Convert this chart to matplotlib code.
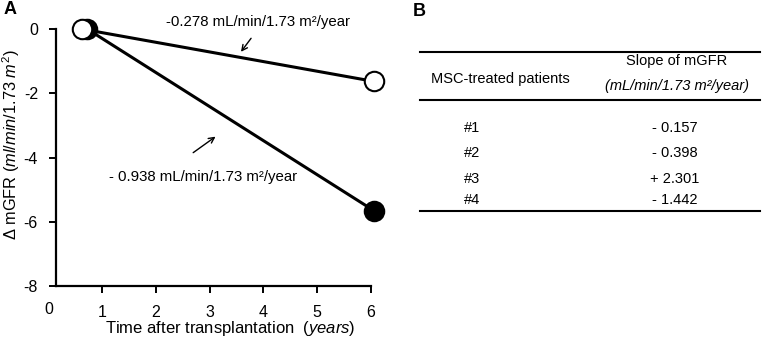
import matplotlib
matplotlib.use("Agg")
import matplotlib.pyplot as plt

plt.rcParams['font.family'] = ['Liberation Sans', 'DejaVu Sans']
plt.rcParams['mathtext.fontset'] = 'custom'
plt.rcParams['mathtext.rm'] = 'Liberation Sans'
plt.rcParams['mathtext.it'] = 'Liberation Sans:italic'
plt.rcParams['mathtext.bf'] = 'Liberation Sans:bold'
plt.rcParams['axes.unicode_minus'] = False

# Data
years_open = [0.62, 6.05]
mgfr_open = [0.0, -1.63]
years_filled = [0.72, 6.05]
mgfr_filled = [0.0, -5.65]
xticks = [1, 2, 3, 4, 5, 6]
yticks = [0, -2, -4, -6, -8]
slope_open_label = "-0.278 mL/min/1.73 m\u00b2/year"
slope_filled_label = "- 0.938 mL/min/1.73 m\u00b2/year"
patients = ["#1", "#2", "#3", "#4"]
slopes = ["- 0.157", "- 0.398", "+ 2.301", "- 1.442"]

W, H = 762, 345
fig = plt.figure(figsize=(W / 100, H / 100), dpi=100)

def fx(px):
    return px / W

def fy(py):
    return 1 - py / H

FS = 10.8

ax = fig.add_axes([fx(56), fy(286), fx(371 - 56), (286 - 29) / H])
ax.set_xlim(0.14, 6.0)
ax.set_ylim(-8, 0)
ax.spines['top'].set_visible(False)
ax.spines['right'].set_visible(False)
ax.spines['left'].set_linewidth(1.6)
ax.spines['bottom'].set_linewidth(1.6)
ax.set_xticks(xticks)
ax.set_yticks(yticks)
ax.tick_params(axis='both', direction='out', length=5, width=1.4, labelsize=FS + 0.7)
ax.tick_params(axis='x', pad=9)
ax.tick_params(axis='y', pad=8)
ax.text(0, -8.5, "0", ha='center', va='top', fontsize=FS + 0.7, clip_on=False)

ax.plot(years_filled, mgfr_filled, color='black', lw=2.2, marker='o', ms=14,
        mfc='black', mec='black', mew=1.5, clip_on=False, zorder=3)
ax.plot(years_open, mgfr_open, color='black', lw=2.2, marker='o', ms=14,
        mfc='white', mec='black', mew=1.5, clip_on=False, zorder=4)

ax.annotate("", xy=(3.55, -0.78), xytext=(3.8, -0.22),
            arrowprops=dict(arrowstyle='->', lw=1.0, color='black'))
ax.text(3.9, 0.22, slope_open_label, ha='center', va='center', fontsize=FS)
ax.annotate("", xy=(3.15, -3.3), xytext=(2.65, -3.9),
            arrowprops=dict(arrowstyle='->', lw=1.0, color='black'))
ax.text(2.88, -4.6, slope_filled_label, ha='center', va='center', fontsize=FS)

fig.text(fx(230), fy(329), r"Time after transplantation  $\it{(years)}$", fontsize=12,
         ha='center', va='center')
fig.text(fx(11), fy(145), r"$\Delta$ mGFR $\it{(ml/min/1.73\ m^2)}$", fontsize=11.8,
         rotation=90, ha='center', va='center')

fig.text(fx(4), fy(9), "A", fontsize=13, fontweight='bold', ha='left', va='center')
fig.text(fx(413), fy(11), "B", fontsize=13, fontweight='bold', ha='left', va='center')

# Table
for ypx in [52, 100, 211]:
    fig.add_artist(plt.Line2D([fx(420), fx(760)], [fy(ypx), fy(ypx)], color='black', lw=1.5))
TFS = 10.5
fig.text(fx(500), fy(79), "MSC-treated patients", fontsize=TFS, ha='center', va='center')
fig.text(fx(677), fy(61), "Slope of mGFR", fontsize=TFS, ha='center', va='center')
fig.text(fx(677), fy(86), "(mL/min/1.73 m\u00b2/year)", fontsize=TFS, style='italic',
         ha='center', va='center')
row_y = [128, 153, 179, 200]
for p, s, ypx in zip(patients, slopes, row_y):
    fig.text(fx(472), fy(ypx), p, fontsize=TFS, ha='center', va='center')
    fig.text(fx(675), fy(ypx), s, fontsize=TFS, ha='center', va='center')

fig.savefig("out.png", dpi=100)
